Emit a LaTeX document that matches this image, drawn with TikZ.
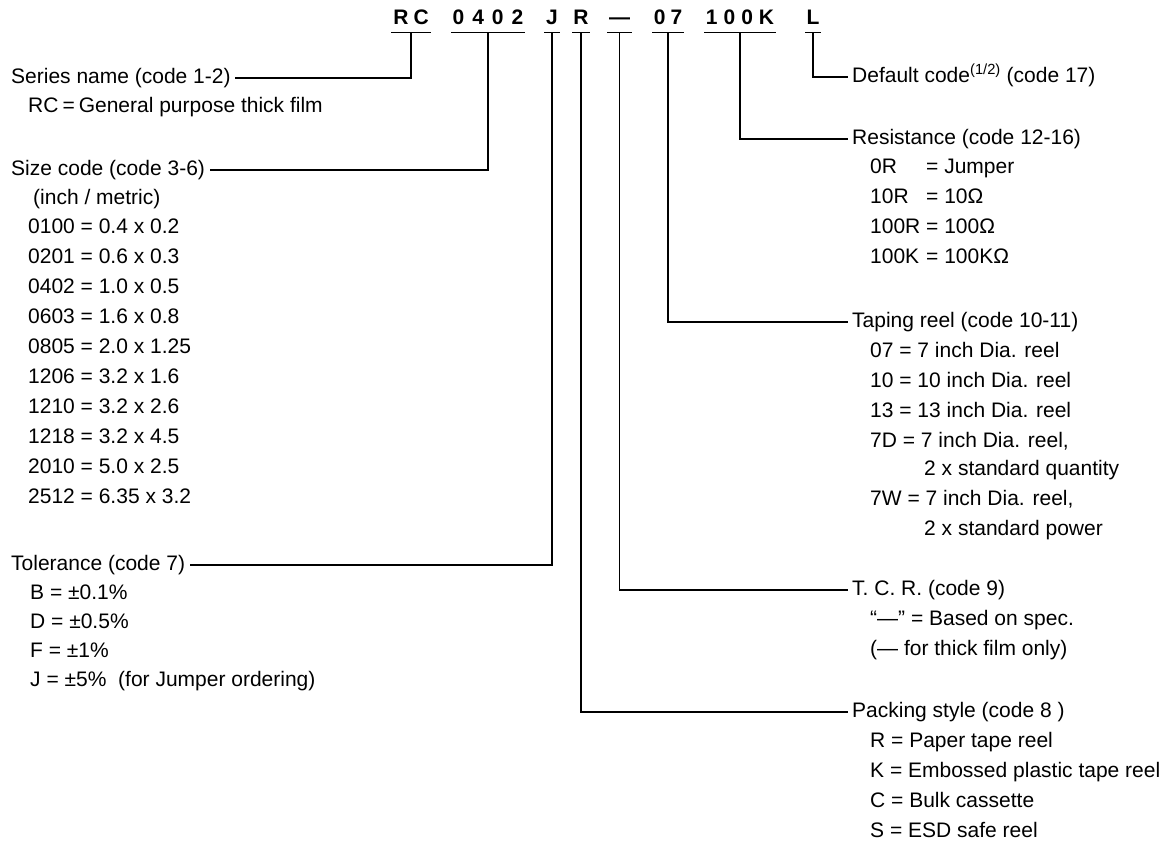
\documentclass[tikz,border=0pt]{standalone}
\usepackage{fontspec}
\setmainfont{Liberation Sans}
\begin{document}
\begin{tikzpicture}[x=1pt,y=-1pt,
  every node/.style={inner sep=0pt, font=\fontsize{21}{25}\selectfont},
  codechar/.style={font=\fontsize{21}{25}\selectfont\bfseries, anchor=base},
  txt/.style={anchor=west, text height=15pt, text depth=4pt},
  head/.style={txt, inner xsep=5pt},
  conn/.style={line width=1.3pt, line cap=rect},
]
\useasboundingbox[fill=white] (0,0) rectangle (1169,845);

% ---- code characters
\node[codechar] (cRC)   at (411,25)   {R\hskip5pt C};
\node[codechar] (c0402) at (488,25)   {0\hskip8pt 4\hskip8pt 0\hskip8pt 2};
\node[codechar] (cJ)    at (552,25)   {J};
\node[codechar] (cR)    at (581,25)   {R};
\node[codechar] (cT)    at (619.5,25) {—};
\node[codechar] (c07)   at (668,25)   {0\hskip5pt 7};
\node[codechar] (cK)    at (740,25)   {1\hskip6pt 0\hskip6pt 0\hskip6pt K};
\node[codechar] (cL)    at (813,25)   {L};
\foreach \n in {cRC,c0402,cJ,cR,cT,c07,cK,cL}{
  \draw[conn] ([xshift=-1pt,yshift=-7pt]\n.south west) -- ([xshift=1pt,yshift=-7pt]\n.south east);
  \coordinate (\n-u) at ([yshift=-7pt]\n.south);
}

% ---- left column
\node[head] (series) at (6,78)  {Series name (code 1-2)};
\node[txt]  (rcdef)  at (28,107) {RC\hspace{4pt}=\hspace{4pt}General purpose thick film};
\node[head] (size)   at (6,170) {Size code (code 3-6)};
\node[txt]  (inch)   at (33,199) {(inch / metric)};
\foreach \i/\t in {0/{0100 = 0.4 x 0.2},1/{0201 = 0.6 x 0.3},2/{0402 = 1.0 x 0.5},
  3/{0603 = 1.6 x 0.8},4/{0805 = 2.0 x 1.25},5/{1206 = 3.2 x 1.6},6/{1210 = 3.2 x 2.6},
  7/{1218 = 3.2 x 4.5},8/{2010 = 5.0 x 2.5},9/{2512 = 6.35 x 3.2}}{
  \node[txt] (sz\i) at (28,228+30*\i) {\t};
}
\node[head] (tol) at (6,565) {Tolerance (code 7)};
\node[txt] (tolB) at (30,594) {B = ±0.1\%};
\node[txt] (tolD) at (30,623) {D = ±0.5\%};
\node[txt] (tolF) at (30,652) {F = ±1\%};
\node[txt] (tolJ) at (30,681) {J = ±5\%\ \ (for Jumper ordering)};

% ---- right column
\node[head] (def) at (847,77) {Default code\textsuperscript{(1/2)} (code 17)};

\node[head] (res) at (847,139) {Resistance (code 12-16)};
\node[txt] (res0) at (870,168) {\makebox[56pt][l]{0R}= Jumper};
\node[txt] (res1) at (870,198) {\makebox[56pt][l]{10R}= 10Ω};
\node[txt] (res2) at (870,228) {\makebox[56pt][l]{100R}= 100Ω};
\node[txt] (res3) at (870,258) {\makebox[56pt][l]{100K}= 100KΩ};

\node[head] (tape) at (847,322) {Taping reel (code 10-11)};
\node[txt] (tp0) at (870,352) {07 = 7 inch Dia. reel};
\node[txt] (tp1) at (870,382) {10 = 10 inch Dia. reel};
\node[txt] (tp2) at (870,412) {13 = 13 inch Dia. reel};
\node[txt] (tp3) at (870,442) {7D = 7 inch Dia. reel,};
\node[txt] (tp4) at (924,470) {2 x standard quantity};
\node[txt] (tp5) at (870,500) {7W = 7 inch Dia. reel,};
\node[txt] (tp6) at (924,530) {2 x standard power};

\node[head] (tcr) at (847,590) {T. C. R. (code 9)};
\node[txt] (tcr0) at (870,620) {“—” = Based on spec.};
\node[txt] (tcr1) at (870,650) {(— for thick film only)};

\node[head] (pack) at (847,712) {Packing style (code 8 )};
\node[txt] (pk0) at (870,742) {R = Paper tape reel};
\node[txt] (pk1) at (870,772) {K = Embossed plastic tape reel};
\node[txt] (pk2) at (870,802) {C = Bulk cassette};
\node[txt] (pk3) at (870,832) {S = ESD safe reel};

% ---- connectors
\draw[conn] (cRC-u)   |- (series.east);
\draw[conn] (c0402-u) |- (size.east);
\draw[conn] (cJ-u)    |- (tol.east);
\draw[conn] (cR-u)    |- (pack.west);
\draw[conn] (cT-u)    |- (tcr.west);
\draw[conn] (c07-u)   |- (tape.west);
\draw[conn] (cK-u)    |- (res.west);
\draw[conn] (cL-u)    |- (def.west);
\end{tikzpicture}
\end{document}
